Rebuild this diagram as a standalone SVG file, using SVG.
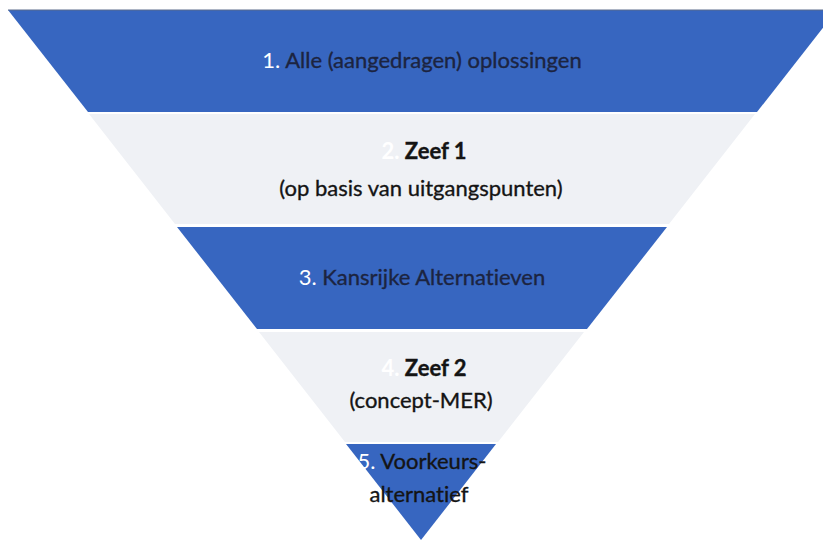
<svg xmlns="http://www.w3.org/2000/svg" width="823" height="542" viewBox="0 0 823 542">
<style>
.blue{fill:#3766c0}
.light{fill:#eff1f5}
text{font-family:Lato,"Open Sans","Liberation Sans",sans-serif;font-size:22px;text-anchor:middle;font-variant-ligatures:none;font-feature-settings:"liga" 0}
.dk{fill:#1c2440;stroke:#1c2440;stroke-width:0.35}
.bk{fill:#141414;stroke:#141414;stroke-width:0.35}
.wh{fill:#ffffff}
.b{font-weight:bold}
</style>
<rect width="823" height="542" fill="#ffffff"/>
<g id="band1">
<polygon class="blue" points="8,10 837,10 757,112 88,112"/>
<line x1="8" y1="10" x2="823" y2="10" stroke="#5a6b8a" stroke-width="1"/>
<text x="422" y="68"><tspan class="wh">1.</tspan><tspan class="dk"> Alle (aangedragen) oplossingen</tspan></text>
</g>
<g id="band2">
<polygon class="light" points="89,114 755,114 669,224 175,224"/>
<text x="424" y="159" class="b"><tspan class="wh">2.</tspan><tspan class="bk"> Zeef 1</tspan></text>
<text x="421" y="196" class="bk">(op basis van uitgangspunten)</text>
</g>
<g id="band3">
<polygon class="blue" points="177,227 667,227 587,329 257,329"/>
<text x="422" y="285"><tspan class="wh">3.</tspan><tspan class="dk"> Kansrijke Alternatieven</tspan></text>
</g>
<g id="band4">
<polygon class="light" points="259,332 584,332 498,442 345,442"/>
<text x="424" y="376" class="b"><tspan class="wh">4.</tspan><tspan class="bk"> Zeef 2</tspan></text>
<text x="421" y="408" class="bk">(concept-MER)</text>
</g>
<g id="band5">
<polygon class="blue" points="346,444 496,444 421,540"/>
<text x="422" y="469"><tspan class="wh">5.</tspan><tspan class="bk"> Voorkeurs-</tspan></text>
<text x="419" y="502" class="bk">alternatief</text>
</g>
</svg>
